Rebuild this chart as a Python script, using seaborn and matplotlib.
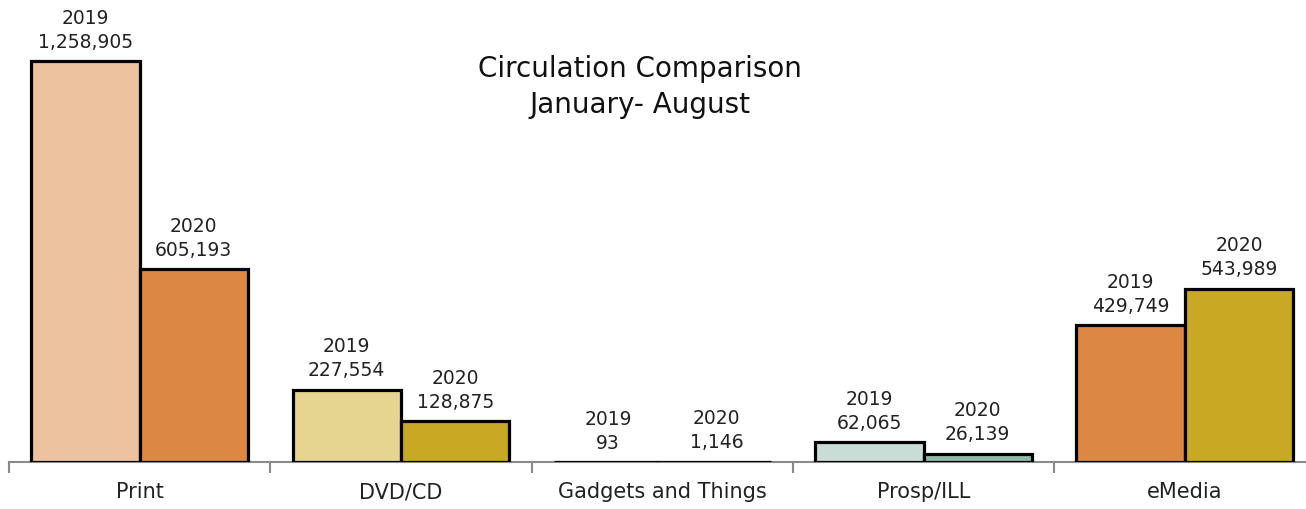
import matplotlib

matplotlib.use("Agg")

import matplotlib.pyplot as plt
import pandas as pd
import seaborn as sns

categories = ["Print", "DVD/CD", "Gadgets and Things", "Prosp/ILL", "eMedia"]
years = ["2019", "2020"]
values_2019 = [1258905, 227554, 93, 62065, 429749]
values_2020 = [605193, 128875, 1146, 26139, 543989]
colors_2019 = ["#EDC39F", "#E5D590", "#C9A823", "#C9DDD6", "#DC8744"]
colors_2020 = ["#DC8744", "#C9A823", "#C9A823", "#8DBBA6", "#C9A823"]

df = pd.DataFrame({
    "category": categories * 2,
    "year": [years[0]] * 5 + [years[1]] * 5,
    "value": values_2019 + values_2020,
})

sns.set_theme(style="white")
plt.rcParams["font.family"] = ["DejaVu Sans"]

fig = plt.figure(figsize=(13.06, 5.10), dpi=100)
# axes runs a little past the right edge, like the original
ax = fig.add_axes([9 / 1306, 47 / 510, 1306.5 / 1306, 463 / 510])

sns.barplot(data=df, x="category", y="value", hue="year", width=0.83,
            edgecolor="black", linewidth=2.3, legend=False, ax=ax,
            order=categories, hue_order=years, zorder=3)

# seaborn draws all 2019 bars, then all 2020 bars
bars = ax.patches
for patch, col in zip(bars, colors_2019 + colors_2020):
    patch.set_facecolor(col)
    patch.set_zorder(3)

for patch, yr, val in zip(bars, [years[0]] * 5 + [years[1]] * 5,
                          values_2019 + values_2020):
    x = patch.get_x() + patch.get_width() / 2
    ax.annotate(f"{yr}\n{val:,}", (x, patch.get_height()),
                xytext=(0, 7.5), textcoords="offset points",
                ha="center", va="bottom", fontsize=13.5, linespacing=1.33,
                color="#222222")

ax.set_xlim(-0.5, 4.5)
ax.set_ylim(0, 1258905 * 463 / 401)
ax.set_xlabel("")
ax.set_ylabel("")
ax.set_yticks([])
for side in ["top", "right", "left"]:
    ax.spines[side].set_visible(False)
ax.spines["bottom"].set_color("#8a8a8a")
ax.spines["bottom"].set_linewidth(1.5)

ax.set_xticks([i - 0.5 for i in range(6)], minor=True)
ax.tick_params(axis="x", which="major", length=0, labelsize=15, pad=14,
               colors="#222222")
ax.tick_params(axis="x", which="minor", bottom=True, length=8, width=1.5,
               color="#8a8a8a", direction="out")

fig.text(640 / 1306, 1 - 87 / 510, "Circulation Comparison\nJanuary- August",
         ha="center", va="center", fontsize=20, linespacing=1.38,
         color="#111111")

fig.savefig("out.png", dpi=100)
